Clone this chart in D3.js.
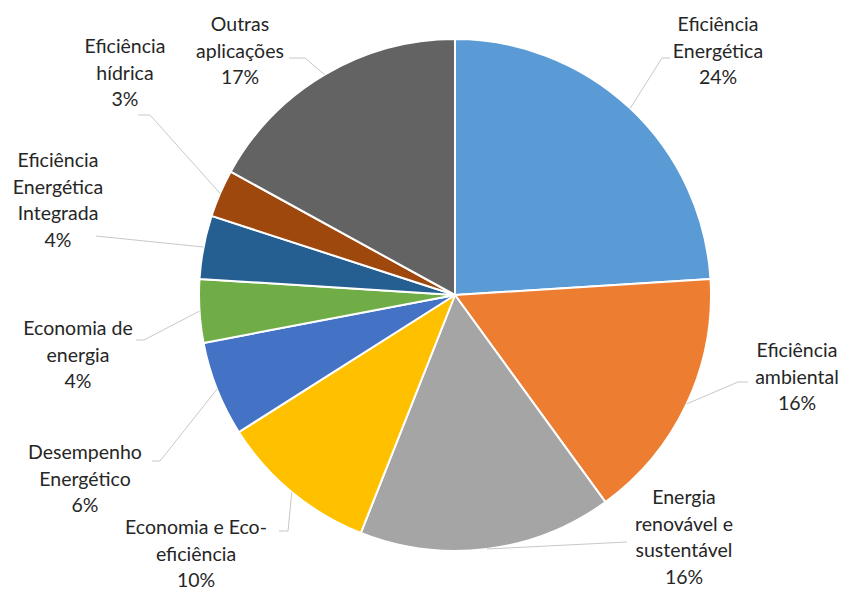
<!DOCTYPE html>
<html>
<head>
<meta charset="utf-8">
<script src="https://cdn.jsdelivr.net/npm/d3@7"></script>
<style>
  html, body { margin: 0; padding: 0; background: #fff; }
  svg { display: block; }
</style>
</head>
<body>
<svg id="chart" width="844" height="590"></svg>
<script>
// Categories (label lines) and their shares, clockwise from 12 o'clock
const categories = [
  ["Eficiência", "Energética"],
  ["Eficiência", "ambiental"],
  ["Energia", "renovável e", "sustentável"],
  ["Economia e Eco-", "eficiência"],
  ["Desempenho", "Energético"],
  ["Economia de", "energia"],
  ["Eficiência", "Energética", "Integrada"],
  ["Eficiência", "hídrica"],
  ["Outras", "aplicações"]
];
const shares = [24, 16, 16, 10, 6, 4, 4, 3, 17];
const colors = ["#5B9BD5", "#ED7D31", "#A5A5A5", "#FFC000", "#4472C4",
                "#70AD47", "#255E91", "#9E480E", "#636363"];

// Label placement: text centre x, first line centre y, leader elbow and end
const labelLayout = [
  { x: 718, y: 24,  elbow: [662, 58],  end: [670, 58] },
  { x: 797, y: 350, elbow: [738, 382], end: [748, 382] },
  { x: 684, y: 497, elbow: [627, 542], end: [627, 542] },
  { x: 196, y: 527, elbow: [288, 531], end: [279, 531] },
  { x: 85,  y: 452, elbow: [160, 461], end: [152, 461] },
  { x: 78,  y: 328, elbow: [144, 340], end: [136, 340] },
  { x: 58,  y: 160, elbow: [96, 236],  end: [96, 236] },
  { x: 125, y: 46,  elbow: [150, 115], end: [138, 115] },
  { x: 240, y: 24,  elbow: [305, 58],  end: [289, 58] }
];

const cx = 455, cy = 295, radius = 256;
const lineHeight = 26.8;

const svg = d3.select("#chart");
const g = svg.append("g").attr("transform", `translate(${cx},${cy})`);

const data = shares.map((v, i) => ({ name: categories[i], value: v, color: colors[i], layout: labelLayout[i] }));

const pie = d3.pie().value(d => d.value).sort(null);
const arc = d3.arc().innerRadius(0).outerRadius(radius);
const arcs = pie(data);

// Slices
g.selectAll("path.slice")
  .data(arcs)
  .join("path")
  .attr("class", "slice")
  .attr("d", arc)
  .attr("fill", d => d.data.color)
  .attr("stroke", "#fff")
  .attr("stroke-width", 2)
  .attr("stroke-linejoin", "round");

// Leader lines from the slice edge at its mid angle to the label
const leaders = svg.append("g");
arcs.forEach(a => {
  const mid = (a.startAngle + a.endAngle) / 2;
  const px = cx + radius * Math.sin(mid);
  const py = cy - radius * Math.cos(mid);
  const L = a.data.layout;
  leaders.append("polyline")
    .attr("points", [[px, py], L.elbow, L.end].map(p => p.join(",")).join(" "))
    .attr("fill", "none")
    .attr("stroke", "#C8C8C8")
    .attr("stroke-width", 1);
});

// Labels: category lines followed by the percentage
const labels = svg.append("g")
  .attr("font-family", "Lato, 'Open Sans', sans-serif")
  .attr("font-size", 19.5)
  .attr("fill", "#262626")
  .attr("text-anchor", "middle");

arcs.forEach(a => {
  const L = a.data.layout;
  const lines = a.data.name.concat([a.data.value + "%"]);
  const t = labels.append("text");
  lines.forEach((s, k) => {
    t.append("tspan")
      .attr("x", L.x)
      .attr("y", L.y + k * lineHeight)
      .attr("dy", "0.35em")
      .text(s);
  });
});
</script>
</body>
</html>
